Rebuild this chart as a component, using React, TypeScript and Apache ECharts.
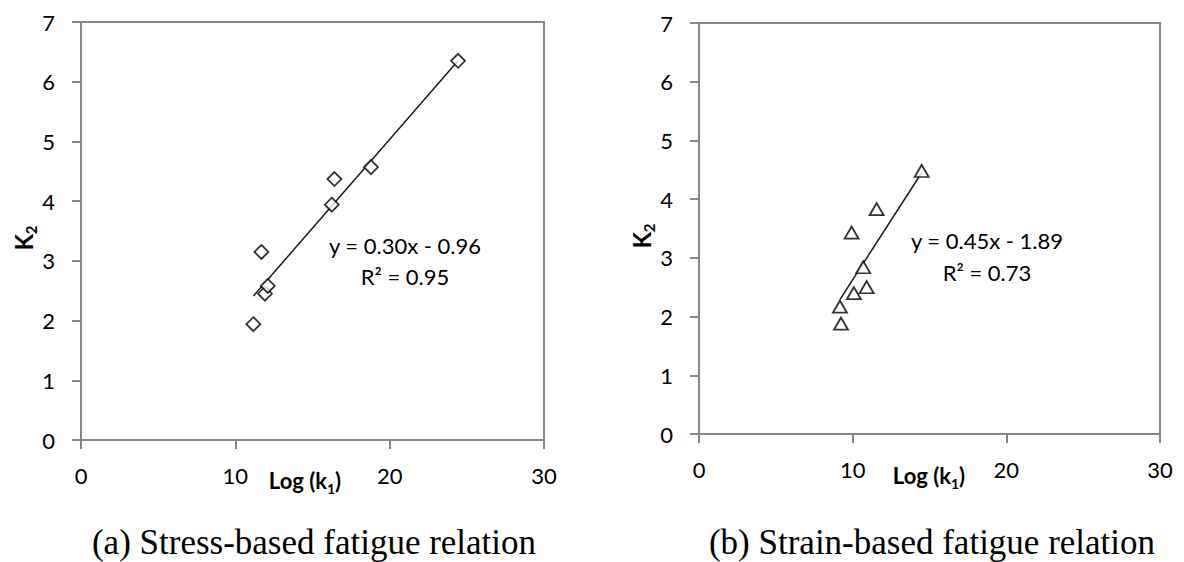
import React, { useEffect, useRef } from "react";
import * as echarts from "echarts";

// Stress-based relation (a)
const stressLogK1 = [11.17, 11.69, 11.92, 12.1, 16.25, 16.42, 18.79, 24.43];
const stressK2 = [1.94, 3.15, 2.45, 2.58, 3.94, 4.37, 4.57, 6.35];
const stressTrendX = [11.17, 24.43];
const stressTrendY = [2.41, 6.35];

// Strain-based relation (b)
const strainLogK1 = [9.24, 9.17, 10.08, 10.91, 10.69, 9.93, 11.56, 14.49];
const strainK2 = [1.88, 2.17, 2.4, 2.5, 2.84, 3.43, 3.83, 4.48];
const strainTrendX = [9.17, 14.49];
const strainTrendY = [2.29, 4.45];

const equations = ["y = 0.30x - 0.96", "y = 0.45x - 1.89"];
const rSquared = ["R² = 0.95", "R² = 0.73"];
const captions = ["(a) Stress-based fatigue relation", "(b) Strain-based fatigue relation"];
const xTickRange = [0, 30, 10];
const yTickRange = [0, 7, 1];

const AXIS_GRAY = "#878787";
const SANS = "Lato";

function axisBase(extra: any) {
  return {
    type: "value",
    axisLine: { show: true, lineStyle: { color: AXIS_GRAY, width: 2 } },
    axisTick: { show: true, inside: false, length: 9, lineStyle: { color: AXIS_GRAY, width: 2 } },
    splitLine: { show: false },
    ...extra,
  };
}

export default function App() {
  const ref = useRef<HTMLDivElement>(null);
  useEffect(() => {
    if (!ref.current) return;
    const chart = echarts.init(ref.current, undefined, { renderer: "svg" });
    const pair = (xs: number[], ys: number[]) => xs.map((x, i) => [x, ys[i]]);

    const grids = [
      { left: 81, top: 22, width: 463, height: 418 },
      { left: 699, top: 23, width: 461, height: 411 },
    ];

    const xAxes = grids.map((_, i) =>
      axisBase({
        gridIndex: i,
        min: xTickRange[0],
        max: xTickRange[1],
        interval: xTickRange[2],
        axisLabel: { fontFamily: SANS, fontSize: 22, color: "#000", margin: 24 },
      })
    );
    const yAxes = grids.map((_, i) =>
      axisBase({
        gridIndex: i,
        min: yTickRange[0],
        max: yTickRange[1],
        interval: yTickRange[2],
        axisLabel: { fontFamily: SANS, fontSize: 22, color: "#000", margin: 26 },
      })
    );

    const markerStyle = { color: "#fff", borderColor: "#000", borderWidth: 1.8 };
    const trendStyle = { color: "#1a1a1a", width: 1.5 };

    const eqCenters = [
      { x: 405, y: 245, ry: 276 },
      { x: 987, y: 240, ry: 272 },
    ];
    const captionCenters = [314, 932];
    const k2Pos = [
      { x: 23, y: 238 },
      { x: 641, y: 236 },
    ];
    const logPos = [
      { x: 305, y: 480 },
      { x: 929, y: 475 },
    ];

    const graphics: any[] = [];
    for (let i = 0; i < 2; i++) {
      graphics.push({
        type: "text",
        x: eqCenters[i].x,
        y: eqCenters[i].y,
        style: { text: equations[i], font: `22px ${SANS}`, fill: "#000", align: "center", verticalAlign: "middle" },
        z: 10,
      });
      graphics.push({
        type: "text",
        x: eqCenters[i].x,
        y: eqCenters[i].ry,
        style: { text: rSquared[i], font: `22px ${SANS}`, fill: "#000", align: "center", verticalAlign: "middle" },
        z: 10,
      });
      graphics.push({
        type: "text",
        x: captionCenters[i],
        y: 542,
        style: {
          text: captions[i],
          font: `35px "Liberation Serif"`,
          fill: "#000",
          align: "center",
          verticalAlign: "middle",
        },
        z: 10,
      });
      graphics.push({
        type: "text",
        x: k2Pos[i].x,
        y: k2Pos[i].y,
        rotation: Math.PI / 2,
        style: {
          text: "{k|K}{s|2}",
          align: "center",
          verticalAlign: "middle",
          rich: {
            k: { fontFamily: SANS, fontSize: 24, fontWeight: "bold", fill: "#000", color: "#000", lineHeight: 30, verticalAlign: "middle" },
            s: { fontFamily: SANS, fontSize: 15, fontWeight: "bold", fill: "#000", color: "#000", lineHeight: 30, verticalAlign: "bottom" },
          },
        },
        z: 10,
      });
      graphics.push({
        type: "text",
        x: logPos[i].x,
        y: logPos[i].y,
        style: {
          text: "{a|Log (k}{s|1}{a|)}",
          align: "center",
          verticalAlign: "middle",
          backgroundColor: "#fff",
          rich: {
            a: { fontFamily: SANS, fontSize: 22, fontWeight: "bold", fill: "#000", color: "#000", lineHeight: 30, verticalAlign: "middle" },
            s: { fontFamily: SANS, fontSize: 14, fontWeight: "bold", fill: "#000", color: "#000", lineHeight: 30, verticalAlign: "bottom" },
          },
        },
        z: 10,
      });
    }

    chart.setOption({
      animation: false,
      backgroundColor: "#fff",
      grid: grids.map((g) => ({ ...g, show: true, borderColor: AXIS_GRAY, borderWidth: 2, backgroundColor: "transparent" })),
      xAxis: xAxes,
      yAxis: yAxes,
      series: [
        {
          type: "line",
          xAxisIndex: 0,
          yAxisIndex: 0,
          data: pair(stressTrendX, stressTrendY),
          symbol: "none",
          lineStyle: trendStyle,
          z: 2,
        },
        {
          type: "scatter",
          xAxisIndex: 0,
          yAxisIndex: 0,
          data: pair(stressLogK1, stressK2),
          symbol: "diamond",
          symbolSize: [14, 14],
          itemStyle: markerStyle,
          z: 3,
        },
        {
          type: "line",
          xAxisIndex: 1,
          yAxisIndex: 1,
          data: pair(strainTrendX, strainTrendY),
          symbol: "none",
          lineStyle: trendStyle,
          z: 2,
        },
        {
          type: "scatter",
          xAxisIndex: 1,
          yAxisIndex: 1,
          data: pair(strainLogK1, strainK2),
          symbol: "triangle",
          symbolSize: [14, 12],
          itemStyle: markerStyle,
          z: 3,
        },
      ],
      graphic: graphics,
    });
    return () => chart.dispose();
  }, []);
  return <div ref={ref} style={{ position: "fixed", left: 0, top: 0, width: 1184, height: 562 }} />;
}
